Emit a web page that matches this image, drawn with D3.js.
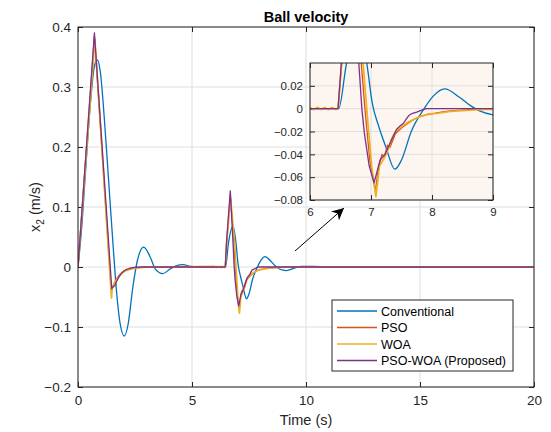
<!DOCTYPE html>
<html>
<head>
<meta charset="utf-8">
<script src="https://cdn.jsdelivr.net/npm/d3@7.9.0/dist/d3.min.js"></script>
<style>
  body { margin: 0; background: #fff; }
  svg { display: block; font-family: "Liberation Sans", Arial, sans-serif; }
  .tick text { fill: #262626; }
</style>
</head>
<body>
<svg id="chart" width="551" height="432"></svg>
<script>
// [time (s), velocity (m/s)]
const conventional = [[0,0],[0.15,0.06],[0.35,0.17],[0.55,0.275],[0.72,0.335],[0.85,0.345],[0.98,0.325],[1.15,0.25],[1.35,0.14],[1.55,0.03],[1.7,-0.045],[1.85,-0.095],[2.03,-0.115],[2.2,-0.095],[2.4,-0.035],[2.6,0.01],[2.88,0.033],[3.15,0.018],[3.4,-0.004],[3.72,-0.011],[4.05,-0.003],[4.3,0.002],[4.6,0.004],[4.95,0.001],[5.4,0],[6.47,0],[6.6,0.04],[6.8,0.068],[6.93,0.04],[7.02,0.005],[7.13,-0.016],[7.24,-0.033],[7.39,-0.053],[7.5,-0.045],[7.66,-0.02],[7.87,0],[8.02,0.011],[8.21,0.0173],[8.45,0.01],[8.65,0.002],[8.78,-0.002],[9.0,-0.0054],[9.12,-0.006],[9.4,-0.003],[9.8,0.001],[10.3,0.001],[11,0],[20,0]];
const pso = [[0,0],[0.72,0.385],[1.46,-0.04],[1.52,-0.033],[1.6,-0.026],[1.7,-0.019],[1.8,-0.014],[1.9,-0.01],[2.05,-0.006],[2.2,-0.004],[2.4,-0.002],[2.6,-0.001],[3,0],[6.46,0],[6.52,0.04],[6.68,0.12],[6.84,0.04],[6.9,0],[6.98,-0.045],[7.07,-0.072],[7.13,-0.05],[7.18,-0.04],[7.22,-0.042],[7.27,-0.032],[7.31,-0.034],[7.4,-0.022],[7.5,-0.017],[7.6,-0.013],[7.7,-0.0095],[7.8,-0.007],[7.9,-0.0055],[8.0,-0.0045],[8.15,-0.003],[8.3,-0.002],[8.5,-0.0012],[8.7,-0.0005],[9.2,0],[20,0]];
const woa = [[0,0],[0.74,0.38],[1.47,-0.052],[1.5,-0.035],[1.56,-0.03],[1.63,-0.025],[1.7,-0.021],[1.8,-0.016],[1.9,-0.011],[2.05,-0.007],[2.2,-0.005],[2.4,-0.0028],[2.6,-0.0015],[2.9,-0.0005],[3.2,0],[6.0,0.001],[6.06,-0.001],[6.12,0.0012],[6.18,-0.0008],[6.24,0.001],[6.3,-0.001],[6.36,0.0011],[6.42,-0.0008],[6.46,0],[6.52,0.04],[6.69,0.115],[6.87,0.04],[6.93,0],[7.01,-0.05],[7.08,-0.077],[7.14,-0.05],[7.2,-0.045],[7.28,-0.036],[7.34,-0.026],[7.4,-0.02],[7.5,-0.016],[7.6,-0.012],[7.7,-0.0095],[7.8,-0.007],[7.95,-0.0045],[8.1,-0.004],[8.3,-0.0025],[8.5,-0.0018],[8.7,-0.001],[8.9,-0.0007],[9.4,0],[20,0]];
const psoWoa = [[0,0],[0.72,0.39],[1.48,-0.036],[1.55,-0.033],[1.62,-0.031],[1.68,-0.025],[1.75,-0.02],[1.82,-0.015],[1.9,-0.011],[2.0,-0.007],[2.1,-0.0045],[2.25,-0.0025],[2.4,-0.0012],[2.6,-0.0004],[2.8,0],[6.46,0],[6.52,0.045],[6.68,0.127],[6.8,0.04],[6.85,0],[6.89,-0.021],[6.97,-0.05],[7.05,-0.065],[7.1,-0.055],[7.15,-0.045],[7.23,-0.04],[7.28,-0.034],[7.34,-0.027],[7.42,-0.018],[7.48,-0.015],[7.53,-0.013],[7.58,-0.009],[7.62,-0.006],[7.67,-0.0043],[7.75,-0.003],[7.83,-0.0012],[7.91,0],[20,0]];

const seriesNames = ['Conventional', 'PSO', 'WOA', 'PSO-WOA (Proposed)'];
const seriesData = [conventional, pso, woa, psoWoa];
const seriesColors = ['#0072BD', '#D95319', '#EDB120', '#7E2F8E'];

const xTicks = [0, 5, 10, 15, 20];
const yTicks = [-0.2, -0.1, 0, 0.1, 0.2, 0.3, 0.4];
const insetXTicks = [6, 7, 8, 9];
const insetYTicks = [-0.08, -0.06, -0.04, -0.02, 0, 0.02];

const svg = d3.select('#chart');

function drawAxes(g, x, y, xt, yt, w, h, fontSize, bg) {
  g.append('rect').attr('width', w).attr('height', h).attr('fill', bg);
  // grid
  g.append('g').selectAll('line').data(xt).join('line')
    .attr('x1', d => x(d)).attr('x2', d => x(d)).attr('y1', 0).attr('y2', h)
    .attr('stroke', '#dfdfdf').attr('stroke-width', 1);
  g.append('g').selectAll('line').data(yt).join('line')
    .attr('y1', d => y(d)).attr('y2', d => y(d)).attr('x1', 0).attr('x2', w)
    .attr('stroke', '#dfdfdf').attr('stroke-width', 1);

  const tickFmt = d3.format('');
  const ax = [
    [d3.axisBottom(x).tickValues(xt).tickSizeInner(-5).tickSizeOuter(0).tickPadding(8).tickFormat(tickFmt), `translate(0,${h})`],
    [d3.axisTop(x).tickValues(xt).tickSizeInner(-5).tickSizeOuter(0).tickFormat(''), 'translate(0,0)'],
    [d3.axisLeft(y).tickValues(yt).tickSizeInner(-5).tickSizeOuter(0).tickPadding(7).tickFormat(tickFmt), 'translate(0,0)'],
    [d3.axisRight(y).tickValues(yt).tickSizeInner(-5).tickSizeOuter(0).tickFormat(''), `translate(${w},0)`]
  ];
  ax.forEach(([a, tr]) => {
    const ag = g.append('g').attr('transform', tr).call(a);
    ag.select('.domain').remove();
    ag.selectAll('.tick line').attr('stroke', '#262626').attr('stroke-width', 1);
    ag.selectAll('.tick text').attr('font-size', fontSize).attr('font-family', '"Liberation Sans", Arial, sans-serif');
  });
  return g;
}

function drawLines(g, x, y) {
  const smooth = d3.line().x(d => x(d[0])).y(d => y(d[1])).curve(d3.curveMonotoneX);
  const straight = d3.line().x(d => x(d[0])).y(d => y(d[1]));
  seriesData.forEach((data, i) => {
    g.append('path').datum(data)
      .attr('fill', 'none')
      .attr('stroke', seriesColors[i])
      .attr('stroke-width', i === 2 ? 1.7 : 1.3)
      .attr('stroke-linejoin', 'round')
      .attr('d', i === 0 ? smooth : straight);
  });
}

// main axes
const M = { left: 78, top: 27, right: 534, bottom: 387 };
const W = M.right - M.left, H = M.bottom - M.top;
const x = d3.scaleLinear().domain([0, 20]).range([0, W]);
const y = d3.scaleLinear().domain([-0.2, 0.4]).range([H, 0]);

const main = svg.append('g').attr('transform', `translate(${M.left},${M.top})`);
drawAxes(main, x, y, xTicks, yTicks, W, H, 13.5, '#fff');
main.append('clipPath').attr('id', 'clipMain').append('rect').attr('width', W).attr('height', H);
drawLines(main.append('g').attr('clip-path', 'url(#clipMain)'), x, y);
main.append('rect').attr('width', W).attr('height', H).attr('fill', 'none')
  .attr('stroke', '#262626').attr('stroke-width', 1);

svg.append('text').attr('x', M.left + W / 2).attr('y', 22)
  .attr('text-anchor', 'middle').attr('font-size', 14.5).attr('font-weight', 'bold')
  .attr('fill', '#000').text('Ball velocity');
svg.append('text').attr('x', M.left + W / 2).attr('y', 425)
  .attr('text-anchor', 'middle').attr('font-size', 14.5).attr('fill', '#262626').text('Time (s)');
const yl = svg.append('text').attr('transform', `translate(40,${M.top + H / 2}) rotate(-90)`)
  .attr('text-anchor', 'middle').attr('font-size', 14.5).attr('fill', '#262626');
yl.append('tspan').text('x');
yl.append('tspan').attr('font-size', 10).attr('dy', 4).text('2');
yl.append('tspan').attr('dy', -4).text(' (m/s)');

// legend
const lg = svg.append('g').attr('transform', 'translate(332,300)');
lg.append('rect').attr('width', 181).attr('height', 71).attr('fill', '#fff')
  .attr('stroke', '#262626').attr('stroke-width', 1);
seriesNames.forEach((name, i) => {
  const yy = 11 + i * 16.5;
  lg.append('line').attr('x1', 5).attr('x2', 45).attr('y1', yy).attr('y2', yy)
    .attr('stroke', seriesColors[i]).attr('stroke-width', 1.5);
  lg.append('text').attr('x', 49).attr('y', yy + 4.5).attr('font-size', 12.5)
    .attr('fill', '#000').text(name);
});

// arrow pointing to the zoomed region
svg.append('defs').append('marker').attr('id', 'head')
  .attr('viewBox', '0 0 10 10').attr('refX', 10).attr('refY', 5)
  .attr('markerWidth', 12).attr('markerHeight', 12).attr('markerUnits', 'userSpaceOnUse')
  .attr('orient', 'auto')
  .append('path').attr('d', 'M0,0 L10,5 L0,10 L3,5 Z').attr('fill', '#000');
svg.append('line').attr('x1', 295).attr('y1', 251).attr('x2', 344).attr('y2', 208)
  .attr('stroke', '#000').attr('stroke-width', 1).attr('marker-end', 'url(#head)');

// inset
const I = { left: 310, top: 63, right: 493, bottom: 200 };
const iW = I.right - I.left, iH = I.bottom - I.top;
const ix = d3.scaleLinear().domain([6, 9]).range([0, iW]);
const iy = d3.scaleLinear().domain([-0.08, 0.04]).range([iH, 0]);
const inset = svg.append('g').attr('transform', `translate(${I.left},${I.top})`);
drawAxes(inset, ix, iy, insetXTicks, insetYTicks, iW, iH, 11.5, '#fdf5ef');
inset.append('clipPath').attr('id', 'clipInset').append('rect').attr('width', iW).attr('height', iH);
drawLines(inset.append('g').attr('clip-path', 'url(#clipInset)'), ix, iy);
inset.append('rect').attr('width', iW).attr('height', iH).attr('fill', 'none')
  .attr('stroke', '#262626').attr('stroke-width', 1);
</script>
</body>
</html>
